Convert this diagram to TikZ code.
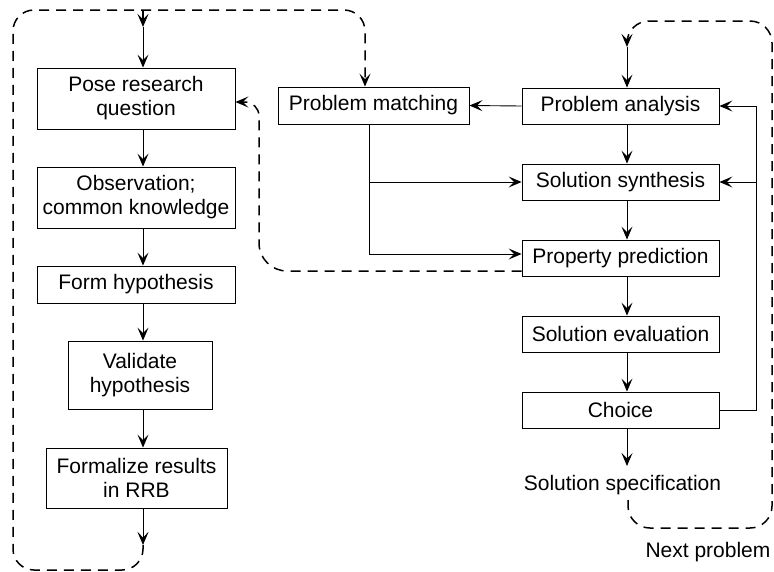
\documentclass[tikz,border=0pt]{standalone}
\usepackage{fontspec}
\setmainfont{Liberation Sans}
\usetikzlibrary{arrows.meta}
\begin{document}
\begin{tikzpicture}[x=1pt,y=-1pt,
 box/.style={draw, line width=0.9pt, inner sep=0pt, align=center, font=\fontsize{21}{24}\selectfont},
 lbl/.style={inner sep=0pt, font=\fontsize{21}{24}\selectfont, anchor=base},
 arr/.style={line width=0.9pt, -{Stealth[length=13pt,width=11pt,inset=5.5pt]}},
 dsh/.style={line width=1.5pt, dash pattern=on 10pt off 7pt},
]
\useasboundingbox (0,0) rectangle (774,571);
% left column
\node[box, minimum width=198pt, minimum height=61pt] (pose) at (136,98.5) {Pose research\\question};
\node[box, minimum width=198pt, minimum height=61pt] (obs) at (136,197.5) {Observation;\\common knowledge};
\node[box, minimum width=198pt, minimum height=37pt] (form) at (136,284.5) {Form hypothesis};
\node[box, minimum width=144pt, minimum height=68pt] (valid) at (140,375) {Validate\\hypothesis};
\node[box, minimum width=181pt, minimum height=60pt] (formal) at (136.5,478) {Formalize results\\in RRB};
% middle
\node[box, minimum width=191pt, minimum height=37pt] (match) at (373.5,105.5) {Problem matching};
% right column
\node[box, minimum width=197pt, minimum height=36pt] (analysis) at (620.5,106) {Problem analysis};
\node[box, minimum width=197pt, minimum height=36pt] (synth) at (620.5,182) {Solution synthesis};
\node[box, minimum width=197pt, minimum height=36pt] (prop) at (620.5,258) {Property prediction};
\node[box, minimum width=197pt, minimum height=36pt] (eval) at (620.5,334) {Solution evaluation};
\node[box, minimum width=197pt, minimum height=36pt] (choice) at (620.5,410) {Choice};
\node[lbl] (spec) at (622.5,490) {Solution specification};
\node[lbl] (next) at (708,557) {Next problem};
% helper coordinates
\coordinate (lx) at (143,0);
\coordinate (rx) at (627,0);
\coordinate (mx) at (369,0);
\coordinate (fbx) at (756,0);
\coordinate (posein) at (143,27);
\coordinate (topbr) at (143,10);
\coordinate (formout) at (143,545);
\coordinate (anin) at (627,47);
\coordinate (specin) at (627,466);
\coordinate (specout) at (628,500);
% left column arrows
\draw[arr] (posein) -- (pose.north -| lx);
\draw[arr] (pose.south -| lx) -- (obs.north -| lx);
\draw[arr] (obs.south -| lx) -- (form.north -| lx);
\draw[arr] (form.south -| lx) -- (valid.north -| lx);
\draw[arr] (valid.south -| lx) -- (formal.north -| lx);
\draw[arr] (formal.south -| lx) -- (formout);
% left dashed loop
\draw[dsh, arr, line width=1.5pt, rounded corners=21pt] (formout) -- (143,570) -- (13,570) -- (13,10) -- (365,10) -- (match.north -| 365,0);
\draw[dsh, arr, line width=1.5pt] (topbr) -- (posein);
% right column arrows
\draw[arr] (anin) -- (analysis.north -| rx);
\draw[arr] (analysis.south -| rx) -- (synth.north -| rx);
\draw[arr] (synth.south -| rx) -- (prop.north -| rx);
\draw[arr] (prop.south -| rx) -- (eval.north -| rx);
\draw[arr] (eval.south -| rx) -- (choice.north -| rx);
\draw[arr] (choice.south -| rx) -- (specin);
% feedback
\draw[arr] (choice.east) -| (fbx |- analysis.east) -- (analysis.east);
\draw[arr] (fbx |- synth.east) -- (synth.east);
% problem matching
\draw[arr] (analysis.west) -- (match.east);
\draw[arr] (match.south -| mx) |- ([yshift=4pt]prop.west);
\draw[arr] (mx |- synth.west) -- (synth.west);
% dashed from property prediction back to question
\draw[dsh, arr, line width=1.5pt] ([yshift=-13pt]prop.west) [rounded corners=28pt] -- (259,271) [rounded corners=14pt] -- (259,102) -- (pose.east |- 0,102);
% right dashed loop
\draw[dsh, arr, line width=1.5pt, rounded corners=22pt] (specout) -- (628,528) -- (772,528) -- (772,21) -- (627,21) -- (anin);
\end{tikzpicture}
\end{document}
